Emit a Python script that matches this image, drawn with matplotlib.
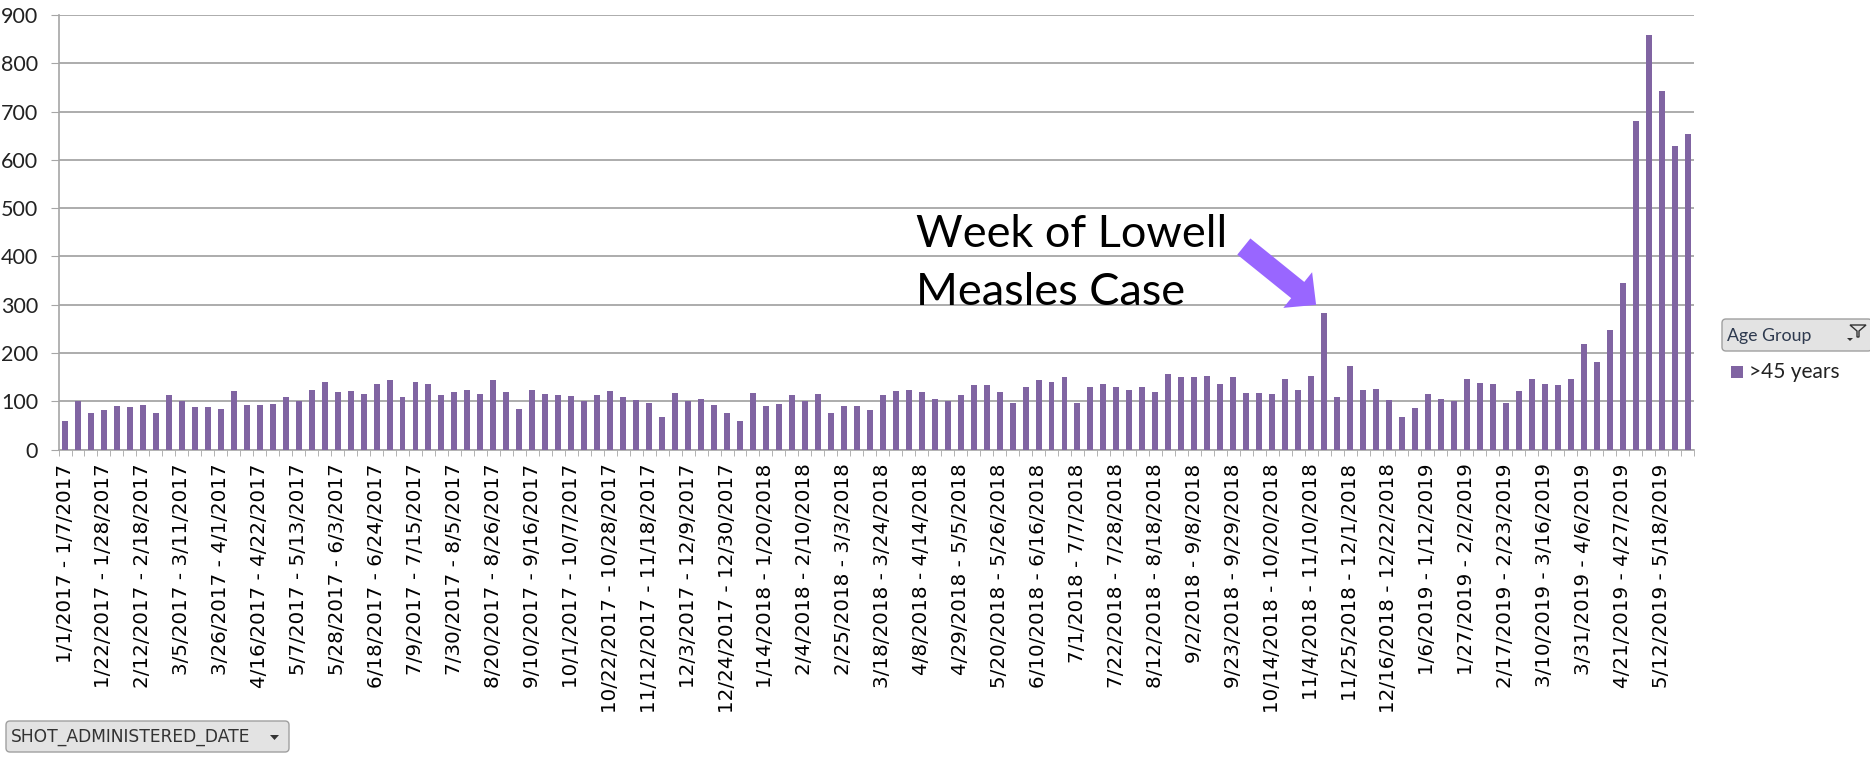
import numpy as np
import pandas as pd
import matplotlib
matplotlib.use("Agg")
from matplotlib import pyplot as plt
from matplotlib.patches import FancyBboxPatch, FancyArrowPatch, Rectangle, Polygon

# weekly shots administered, age group >45 years
week_starts = pd.date_range("2017-01-01", periods=126, freq="7D")
shots = [60, 100, 76, 81, 90, 88, 92, 76, 112, 100,
         88, 88, 83, 122, 92, 92, 94, 108, 100, 124,
         140, 119, 122, 115, 136, 143, 108, 140, 136, 112,
         119, 124, 115, 143, 119, 83, 124, 115, 112, 110,
         100, 112, 122, 108, 103, 96, 67, 117, 100, 105,
         92, 76, 60, 117, 90, 94, 112, 100, 115, 76,
         90, 90, 81, 112, 122, 124, 119, 105, 100, 112,
         133, 133, 119, 96, 129, 145, 140, 150, 96, 129,
         136, 129, 124, 129, 119, 156, 150, 150, 152, 136,
         150, 117, 117, 115, 147, 124, 152, 283, 108, 174,
         124, 126, 103, 67, 85, 115, 105, 100, 147, 138,
         136, 96, 122, 147, 136, 133, 147, 218, 181, 248,
         344, 681, 858, 743, 628, 653]
y_ticks = [0, 100, 200, 300, 400, 500, 600, 700, 800, 900]


def fmt(d):
    return f"{d.month}/{d.day}/{d.year}"


week_labels = [f"{fmt(d)} - {fmt(d + pd.Timedelta(days=6))}" for d in week_starts]

bar_color = "#8064A2"
grid_color = "#A6A6A6"

fig = plt.figure(figsize=(18.7, 7.61), dpi=100)
ax = fig.add_axes([0.0313, 0.4093, 0.9059 - 0.0313, 0.9803 - 0.4093])

x = np.arange(len(shots))
ax.bar(x, shots, width=0.46, color=bar_color, zorder=3)

ax.set_xlim(-0.5, len(shots) - 0.5)
ax.set_ylim(0, 900)
ax.set_yticks(y_ticks)
ax.set_yticklabels([str(v) for v in y_ticks], fontfamily="Lato", fontsize=15.5, color="#222222")
ax.yaxis.grid(True, color=grid_color, linewidth=1.3, zorder=0)
ax.tick_params(axis="y", length=5.8, color=grid_color, pad=9)

# labels every third week, small ticks between every bar
ax.set_xticks(x[::3])
ax.set_xticklabels(week_labels[::3], rotation=90, fontfamily="DejaVu Sans", fontsize=14.3)
ax.set_xticks(np.arange(len(shots) + 1) - 0.5, minor=True)
ax.tick_params(axis="x", which="major", length=0, pad=10)
ax.tick_params(axis="x", which="minor", length=4, color=grid_color)

for s in ["top", "right"]:
    ax.spines[s].set_visible(False)
ax.spines["left"].set_color(grid_color)
ax.spines["bottom"].set_color(grid_color)
ax.spines["left"].set_linewidth(1.2)
ax.spines["bottom"].set_linewidth(1.2)

# annotation
ax.text(65.56, 420, "Week of Lowell", fontfamily="Lato", fontsize=32.5,
        ha="left", va="baseline", zorder=5)
ax.text(65.56, 299, "Measles Case", fontfamily="Lato", fontsize=32.5,
        ha="left", va="baseline", zorder=5)
arrow = FancyArrowPatch((90.65, 424), (96.55, 296),
                        arrowstyle="simple,head_width=33,head_length=17,tail_width=15",
                        mutation_scale=1, color="#9966FF", linewidth=0, zorder=6)
ax.add_patch(arrow)

# pivot chart field buttons
btn = FancyBboxPatch((6, 9), 283, 31, boxstyle="round,pad=0,rounding_size=4",
                     transform=None, facecolor="#E3E3E3", edgecolor="#A0A0A0", linewidth=1)
fig.patches.append(btn)
fig.text(11 / 1870, 24 / 761, "SHOT_ADMINISTERED_DATE", fontfamily="DejaVu Sans",
         fontsize=12.3, color="#333333", va="center", ha="left")
fig.patches.append(Polygon([[270, 26], [279, 26], [274.5, 21]], closed=True, transform=None,
                           facecolor="#333333", edgecolor="none"))

btn2 = FancyBboxPatch((1722, 410), 150, 32, boxstyle="round,pad=0,rounding_size=4",
                      transform=None, facecolor="#E3E3E3", edgecolor="#A0A0A0", linewidth=1)
fig.patches.append(btn2)
fig.text(1727 / 1870, 425 / 761, "Age Group", fontfamily="Lato", fontsize=12.8,
         color="#2E3A4F", va="center", ha="left")
# funnel icon and small dropdown mark
fig.patches.append(Polygon([[1850, 436], [1866, 436], [1859, 430], [1859, 424], [1857, 424], [1857, 430]],
                           closed=True, transform=None, facecolor="none", edgecolor="#333333", linewidth=1))
fig.patches.append(Polygon([[1847, 423], [1853, 423], [1850, 420]], closed=True, transform=None,
                           facecolor="#333333", edgecolor="none"))

# legend entry
fig.patches.append(Rectangle((1731, 383), 12, 12, transform=None, facecolor=bar_color, edgecolor="none"))
fig.text(1749 / 1870, 383 / 761, ">45 years", fontfamily="Lato", fontsize=15,
         color="#222222", va="baseline", ha="left")

fig.savefig("out.png", dpi=100)
